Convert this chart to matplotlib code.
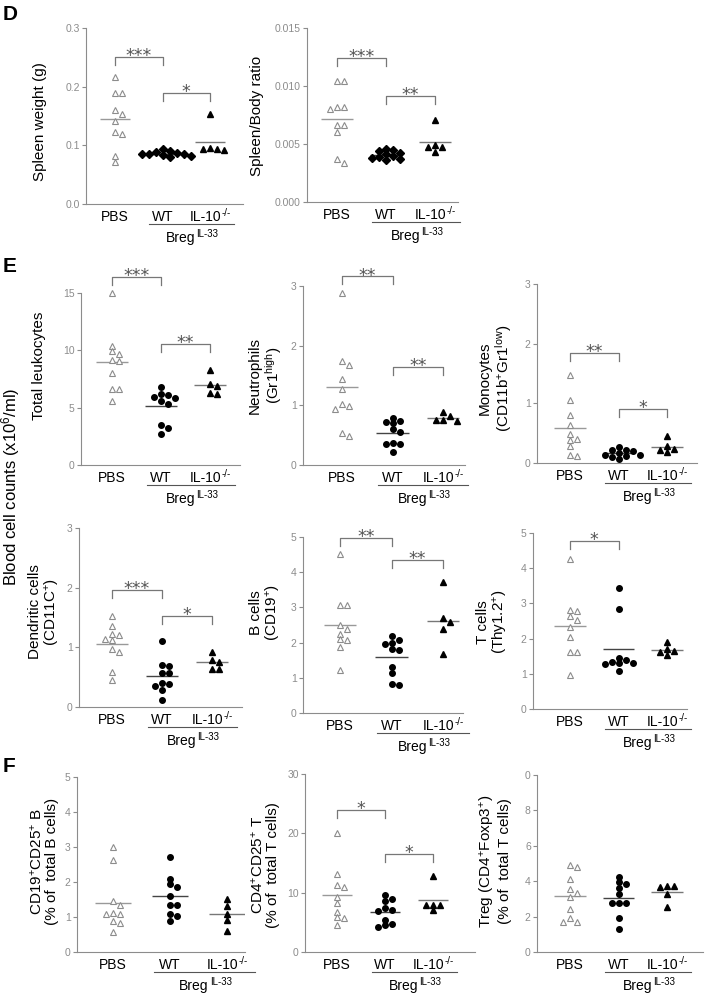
import numpy as np
import matplotlib
matplotlib.use('Agg')
import matplotlib.pyplot as plt
from matplotlib.transforms import blended_transform_factory, ScaledTranslation

plt.rcParams['font.family'] = ['Liberation Sans', 'DejaVu Sans']
plt.rcParams['mathtext.default'] = 'regular'

W, H = 705, 998
groups = ['PBS', 'WT', 'IL-10']

# ---- data ----
spleen_weight_pbs = [0.217, 0.189, 0.189, 0.160, 0.153, 0.142, 0.122, 0.120, 0.081, 0.072]
spleen_weight_wt = [0.093, 0.090, 0.088, 0.087, 0.086, 0.085, 0.085, 0.084, 0.082, 0.080]
spleen_weight_il10 = [0.153, 0.095, 0.094, 0.093, 0.092]

ratio_pbs = [0.0104, 0.0104, 0.0082, 0.0082, 0.0080, 0.0066, 0.0066, 0.0060, 0.0037, 0.0034]
ratio_wt = [0.0046, 0.0045, 0.0044, 0.0042, 0.0041, 0.0040, 0.0039, 0.0038, 0.0037, 0.0036]
ratio_il10 = [0.0071, 0.0049, 0.0047, 0.0047, 0.0043]

leuko_pbs = [15.0, 10.4, 9.9, 9.7, 9.2, 9.1, 8.0, 6.6, 6.6, 5.6]
leuko_wt = [6.8, 6.2, 6.1, 5.9, 5.8, 5.6, 5.35, 3.5, 3.25, 2.7]
leuko_il10 = [8.3, 7.1, 6.9, 6.3, 6.2]

neut_pbs = [2.89, 1.75, 1.68, 1.44, 1.28, 1.02, 0.99, 0.94, 0.53, 0.49]
neut_wt = [0.79, 0.73, 0.72, 0.70, 0.60, 0.56, 0.37, 0.35, 0.35, 0.22]
neut_il10 = [0.88, 0.82, 0.75, 0.75, 0.74]

mono_pbs = [1.47, 1.05, 0.80, 0.645, 0.49, 0.41, 0.39, 0.28, 0.14, 0.11]
mono_wt = [0.26, 0.22, 0.21, 0.20, 0.17, 0.14, 0.14, 0.12, 0.10, 0.06]
mono_il10 = [0.45, 0.29, 0.235, 0.22, 0.18]

dc_pbs = [1.53, 1.35, 1.22, 1.21, 1.14, 1.13, 0.97, 0.92, 0.58, 0.45]
dc_wt = [1.10, 0.71, 0.68, 0.57, 0.57, 0.41, 0.39, 0.36, 0.29, 0.12]
dc_il10 = [0.93, 0.78, 0.75, 0.64, 0.64]

bcell_pbs = [4.51, 3.07, 3.07, 2.50, 2.38, 2.25, 2.09, 2.08, 1.87, 1.23]
bcell_wt = [2.19, 2.08, 1.98, 1.96, 1.81, 1.79, 1.32, 1.13, 0.82, 0.80]
bcell_il10 = [3.73, 2.69, 2.59, 2.38, 1.68]

tcell_pbs = [4.26, 2.82, 2.77, 2.63, 2.54, 2.32, 2.04, 1.61, 1.61, 0.98]
tcell_wt = [3.44, 2.84, 1.45, 1.38, 1.33, 1.30, 1.30, 1.28, 1.07]
tcell_il10 = [1.89, 1.70, 1.64, 1.62, 1.54]

cd25b_pbs = [3.0, 2.64, 1.45, 1.35, 1.11, 1.10, 1.09, 0.88, 0.83, 0.56]
cd25b_wt = [2.71, 2.10, 1.95, 1.85, 1.59, 1.35, 1.35, 1.10, 1.02, 0.88]
cd25b_il10 = [1.51, 1.32, 1.09, 0.92, 0.59]

cd25t_pbs = [20.1, 13.2, 11.3, 11.0, 9.3, 8.2, 6.75, 5.9, 5.7, 4.5]
cd25t_wt = [9.6, 9.0, 8.6, 7.4, 7.1, 6.9, 5.4, 4.8, 4.5, 4.2]
cd25t_il10 = [12.8, 8.0, 7.9, 7.9, 7.15]

treg_pbs = [4.92, 4.78, 4.12, 3.56, 3.31, 3.13, 2.41, 1.94, 1.68, 1.68]
treg_wt = [4.26, 3.94, 3.84, 3.60, 3.28, 2.75, 2.75, 2.75, 1.94, 1.28]
treg_il10 = [3.75, 3.73, 3.70, 3.28, 2.56]

fig = plt.figure(figsize=(W / 100, H / 100), dpi=100)

GRAY = '#8c8c8c'


def px(dx, dy=0):
    return ScaledTranslation(dx / 100, -dy / 100, fig.dpi_scale_trans)


def below(ax, dy, dx=0):
    # x in data, y = axis bottom shifted down by dy pixels
    return blended_transform_factory(ax.transData, ax.transAxes) + px(dx, dy)


def swarm(ypx, d=7.0, h=5.0):
    order = np.argsort(ypx)[::-1]
    placed = []
    cols = np.zeros(len(ypx))
    for i in order:
        for c in [0, 1, -1, 2, -2, 3, -3, 4, -4]:
            if all(abs(ypx[i] - py) >= h or pc != c for py, pc in placed):
                break
        placed.append((ypx[i], c))
        cols[i] = c
    return cols * d


def panel(box, cats, ymax, ticks, ticklabels, ylabel, lab_xy, vals, brackets=(), wt_marker='o'):
    sx, rx, ty, zy = box
    ax = fig.add_axes([sx / W, 1 - zy / H, (rx - sx) / W, (zy - ty) / H])
    p0, p2 = cats
    s = (p2 - p0) / 2
    ax.set_xlim(-(p0 - sx) / s, (rx - p0) / s)
    ax.set_ylim(0, ymax)
    ppu = (zy - ty) / ymax
    styles = [dict(marker='^', mfc='white', mec=GRAY, ms=4.8, mew=0.8),
              dict(marker=wt_marker, mfc='black', mec='black', ms=4.0 if wt_marker == 'o' else 3.6),
              dict(marker='^', mfc='black', mec='black', ms=4.8)]
    mean_colors = ['#999999', '#444444', '#777777']
    for i, v in enumerate(vals):
        v = np.asarray(v, dtype=float)
        off = swarm(v * ppu) / s
        ax.hlines(v.mean(), i - 0.32, i + 0.32, color=mean_colors[i], lw=1, zorder=2)
        ax.plot(i + off, v, ls='none', clip_on=False, zorder=3, **styles[i])
    for spine in ['top', 'right']:
        ax.spines[spine].set_visible(False)
    for spine in ['left', 'bottom']:
        ax.spines[spine].set_color(GRAY)
        ax.spines[spine].set_linewidth(0.8)
    ax.set_xticks([])
    ax.set_yticks(ticks, ticklabels)
    ax.tick_params(axis='y', colors=GRAY, labelsize=7.5, length=3, width=0.8, pad=1.5)
    ax.text(0, 0, groups[0], transform=below(ax, 17), ha='center', va='baseline', fontsize=10)
    ax.text(1, 0, groups[1], transform=below(ax, 17), ha='center', va='baseline', fontsize=10)
    ax.text(2, 0, groups[2], transform=below(ax, 17, 11), ha='right', va='baseline', fontsize=10)
    ax.text(2, 0, '-/-', transform=below(ax, 12, 11.5), ha='left', va='baseline', fontsize=7)
    ax.plot([0.72, 2.5], [0, 0], transform=below(ax, 20), color='#555555', lw=0.8, clip_on=False)
    ax.text(1.61, 0, 'Breg', transform=below(ax, 38, 4), ha='right', va='baseline', fontsize=10)
    ax.text(1.61, 0, 'IL-33', transform=below(ax, 33, 5), ha='left', va='baseline', fontsize=7)
    leg = 8 / ppu
    for a, b, y, star in brackets:
        ax.plot([a, a, b, b], [y - leg, y, y, y - leg], color='#777777', lw=0.9, clip_on=False)
        ax.annotate(star, xy=((a + b) / 2, y), xytext=(0, -3), textcoords='offset points',
                    ha='center', va='baseline', fontsize=12.5, color='#555555',
                    family='DejaVu Sans', annotation_clip=False)
    fig.text(lab_xy[0] / W, 1 - lab_xy[1] / H, ylabel, rotation=90, ha='center', va='center',
             multialignment='center', fontsize=11, linespacing=1.05)
    return ax


# ---- D ----
panel((86, 243, 28, 204), (115, 210), 0.3, [0, 0.1, 0.2, 0.3], ['0.0', '0.1', '0.2', '0.3'],
      'Spleen weight (g)', (40, 122),
      [spleen_weight_pbs, spleen_weight_wt, spleen_weight_il10],
      [(0, 1, 0.250, '***'), (1, 2, 0.189, '*')], wt_marker='D')
panel((307, 458, 28, 202), (337, 435), 0.015, [0, 0.005, 0.010, 0.015],
      ['0.000', '0.005', '0.010', '0.015'],
      'Spleen/Body ratio', (257, 116),
      [ratio_pbs, ratio_wt, ratio_il10],
      [(0, 1, 0.0124, '***'), (1, 2, 0.00917, '**')], wt_marker='D')

# ---- E row 1 ----
panel((81, 240, 293, 465), (112, 210), 15, [0, 5, 10, 15], ['0', '5', '10', '15'],
      'Total leukocytes', (39, 366),
      [leuko_pbs, leuko_wt, leuko_il10],
      [(0, 1, 16.4, '***'), (1, 2, 10.55, '**')])
panel((303, 465, 286, 465), (342, 443), 3, [0, 1, 2, 3], ['0', '1', '2', '3'],
      'Neutrophils\n(Gr1$^{high}$)', (266, 375),
      [neut_pbs, neut_wt, neut_il10],
      [(0, 1, 3.16, '**'), (1, 2, 1.65, '**')])
panel((537, 697, 284, 463), (570, 667), 3, [0, 1, 2, 3], ['0', '1', '2', '3'],
      'Monocytes\n(CD11b$^{+}$Gr1$^{low}$)', (496, 378),
      [mono_pbs, mono_wt, mono_il10],
      [(0, 1, 1.85, '**'), (1, 2, 0.90, '*')])

# ---- E row 2 ----
panel((79, 242, 528, 707), (112, 212), 3, [0, 1, 2, 3], ['0', '1', '2', '3'],
      'Dendritic cells\n(CD11C$^{+}$)', (45, 612),
      [dc_pbs, dc_wt, dc_il10],
      [(0, 1, 1.96, '***'), (1, 2, 1.52, '*')])
panel((303, 463, 537, 713), (340, 443), 5, [0, 1, 2, 3, 4, 5], ['0', '1', '2', '3', '4', '5'],
      'B cells\n(CD19$^{+}$)', (266, 613),
      [bcell_pbs, bcell_wt, bcell_il10],
      [(0, 1, 4.97, '**'), (1, 2, 4.34, '**')])
panel((533, 687, 533, 709), (570, 667), 5, [0, 1, 2, 3, 4, 5], ['0', '1', '2', '3', '4', '5'],
      'T cells\n(Thy1.2$^{+}$)', (493, 622),
      [tcell_pbs, tcell_wt, tcell_il10],
      [(0, 1, 4.78, '*')])

# ---- F ----
panel((77, 245, 777, 952), (113, 227), 5, [0, 1, 2, 3, 4, 5], ['0', '1', '2', '3', '4', '5'],
      'CD19$^{+}$CD25$^{+}$ B\n(% of  total B cells)', (44, 861),
      [cd25b_pbs, cd25b_wt, cd25b_il10])
panel((305, 475, 774, 952), (337, 433), 30, [0, 10, 20, 30], ['0', '10', '20', '30'],
      'CD4$^{+}$CD25$^{+}$ T\n(% of  total T cells)', (265, 865),
      [cd25t_pbs, cd25t_wt, cd25t_il10],
      [(0, 1, 24.0, '*'), (1, 2, 16.5, '*')])
panel((537, 703, 775, 952), (570, 667), 10, [0, 2, 4, 6, 8, 10], ['0', '2', '4', '6', '8', '0'],
      'Treg (CD4$^{+}$Foxp3$^{+}$)\n(% of  total T cells)', (495, 861),
      [treg_pbs, treg_wt, treg_il10])

fig.text(11 / W, 1 - 487 / H, 'Blood cell counts (x10$^{6}$/ml)', rotation=90,
         ha='center', va='center', fontsize=12)

for letter, y in [('D', 5), ('E', 257), ('F', 757)]:
    fig.text(3 / W, 1 - y / H, letter, ha='left', va='top', fontsize=15, fontweight='bold')

fig.savefig('out.png', dpi=100)
